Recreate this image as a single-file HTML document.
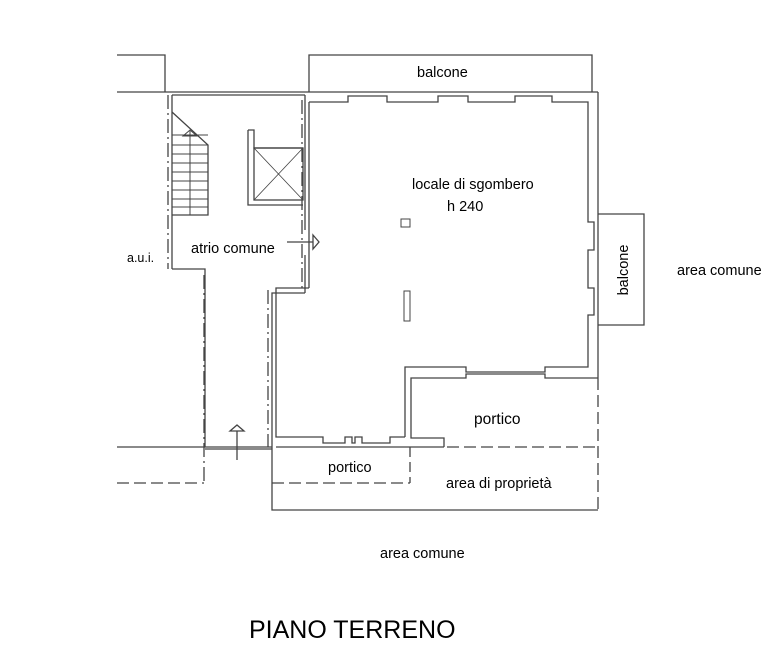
<!DOCTYPE html>
<html><head><meta charset="utf-8"><style>
html,body{margin:0;padding:0;background:#fff;width:768px;height:649px;overflow:hidden}
text{font-family:"Liberation Sans",sans-serif;fill:#000}
</style></head><body>
<svg width="768" height="649" viewBox="0 0 768 649" xmlns="http://www.w3.org/2000/svg">
<g fill="none" stroke="#444" stroke-width="1.3">
<polyline points="117,55 165,55 165,92"/>
<line x1="117" y1="92" x2="598" y2="92"/>
<polyline points="309,92 309,55 592,55 592,92"/>
<line x1="598" y1="92" x2="598" y2="378"/>
<polyline points="309,102 348,102 348,96 387,96 387,102 438,102 438,96 468,96 468,102 515,102 515,96 552,96 552,102 588,102 588,222 594,222 594,250 588,250 588,288 594,288 594,315 588,315 588,367 545,367 545,372 466,372 466,367 405,367 405,437"/>
<polyline points="598,378 545,378 545,374 466,374 466,378 411,378 411,438 444,438 444,447"/>
<line x1="309" y1="102" x2="309" y2="288"/>
<polyline points="598,214 644,214 644,325 598,325"/>
<line x1="172" y1="95" x2="305" y2="95"/>
<line x1="172" y1="95" x2="172" y2="269"/>
<polyline points="172,269 205,269 205,447"/>
<line x1="305" y1="95" x2="305" y2="230"/>
<line x1="305" y1="255" x2="305" y2="293"/>
<polyline points="305,293 272,293 272,447"/>
<polyline points="309,288 276,288 276,437 323,437 323,443 345,443 345,437 352,437 352,443 355,443 355,437 362,437 362,443 390,443 390,437 405,437"/>
<polyline points="248,130 254,130 254,148 303,148"/>
<polyline points="248,130 248,205 303,205"/>
<rect x="254" y="148" width="49" height="52"/>
<line x1="254" y1="148" x2="303" y2="200" stroke-width="0.8"/>
<line x1="303" y1="148" x2="254" y2="200" stroke-width="0.8"/>
<polyline points="172,112 208,145 208,215 172,215"/>
<g stroke-width="1">
<line x1="172" y1="135" x2="208" y2="135"/><line x1="172" y1="145" x2="208" y2="145"/>
<line x1="172" y1="154" x2="208" y2="154"/><line x1="172" y1="163" x2="208" y2="163"/>
<line x1="172" y1="172" x2="208" y2="172"/><line x1="172" y1="181" x2="208" y2="181"/>
<line x1="172" y1="190" x2="208" y2="190"/><line x1="172" y1="199" x2="208" y2="199"/>
<line x1="172" y1="207" x2="208" y2="207"/>
<line x1="190" y1="131" x2="190" y2="215"/>
</g>
<polygon points="183,136 190,130 197,136" stroke-width="1"/>
<line x1="287" y1="242" x2="313" y2="242"/>
<polygon points="313,235 319,242 313,249"/>
<line x1="237" y1="431" x2="237" y2="460"/>
<polygon points="230,431 237,425 244,431"/>
<line x1="117" y1="447" x2="272" y2="447"/>
<line x1="205" y1="449" x2="272" y2="449"/>
<line x1="276" y1="447" x2="444" y2="447"/>
<line x1="447" y1="447" x2="598" y2="447" stroke-dasharray="12,5"/>
<line x1="598" y1="378" x2="598" y2="510" stroke-dasharray="12,5"/>
<polyline points="272,447 272,510 598,510"/>
<line x1="410" y1="447" x2="410" y2="483" stroke-dasharray="10,5"/>
<line x1="272" y1="483" x2="410" y2="483" stroke-dasharray="12,5"/>
<line x1="204" y1="275" x2="204" y2="483" stroke-dasharray="14,4,2,4"/>
<line x1="117" y1="483" x2="204" y2="483" stroke-dasharray="12,5"/>
<line x1="168" y1="95" x2="168" y2="269" stroke-dasharray="14,4,2,4"/>
<line x1="268" y1="290" x2="268" y2="447" stroke-dasharray="14,4,2,4"/>
<line x1="302" y1="100" x2="302" y2="290" stroke-dasharray="14,4,2,4"/>
</g>
<rect x="401" y="219" width="9" height="8" fill="none" stroke="#444"/>
<rect x="404" y="291" width="6" height="30" fill="none" stroke="#444"/>
<g font-size="14.5">
<text x="417" y="77">balcone</text>
<text x="412" y="189">locale di sgombero</text>
<text x="447" y="211">h 240</text>
<text x="191" y="253">atrio comune</text>
<text x="127" y="262" font-size="12.5">a.u.i.</text>
<text x="677" y="275">area comune</text>
<text transform="translate(628,270) rotate(-90)" text-anchor="middle" x="0" y="0">balcone</text>
<text x="474" y="424" font-size="15.5">portico</text>
<text x="328" y="472">portico</text>
<text x="446" y="488">area di proprietà</text>
<text x="380" y="558">area comune</text>
</g>
<text x="249" y="638" font-size="25">PIANO TERRENO</text>
</svg>
</body></html>
